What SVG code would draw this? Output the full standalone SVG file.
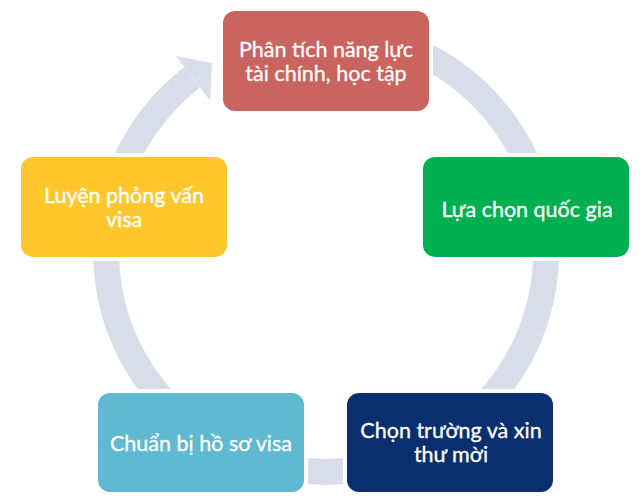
<svg xmlns="http://www.w3.org/2000/svg" width="640" height="502" viewBox="0 0 640 502">
<style>
.box{stroke:#ffffff;stroke-width:8;paint-order:stroke}
.lbl{font-family:Lato,"Liberation Sans",sans-serif;font-size:21.5px;fill:#ffffff;text-anchor:middle;stroke:#ffffff;stroke-width:0.3}
.ring{fill:none;stroke:#D8DDE9;stroke-width:26}
</style>
<rect width="640" height="502" fill="#ffffff"/>
<g id="connectors">
<path class="ring" d="M 326 32 A 220 220 0 1 1 192.1 77.5"/>
<polygon points="175.9,56.1 212,63 210.1,100.5" fill="#D8DDE9"/>
</g>
<g id="node-analysis">
<rect class="box" x="223" y="11" width="206" height="100" rx="12" fill="#C9645F"/>
<text class="lbl" x="326" y="57">Phân tích năng lực</text>
<text class="lbl" x="326" y="81">tài chính, học tập</text>
</g>
<g id="node-country">
<rect class="box" x="423" y="157" width="206" height="100" rx="12" fill="#00B050"/>
<text class="lbl" x="527" y="217">Lựa chọn quốc gia</text>
</g>
<g id="node-school">
<rect class="box" x="347" y="393" width="206" height="99" rx="12" fill="#0A2F6E"/>
<text class="lbl" x="451" y="438">Chọn trường và xin</text>
<text class="lbl" x="451" y="462">thư mời</text>
</g>
<g id="node-visa-docs">
<rect class="box" x="98" y="393" width="206" height="99" rx="12" fill="#5FB9D0"/>
<text class="lbl" x="201" y="451">Chuẩn bị hồ sơ visa</text>
</g>
<g id="node-interview">
<rect class="box" x="21" y="157" width="206" height="100" rx="12" fill="#FFC72C"/>
<text class="lbl" x="124" y="203">Luyện phỏng vấn</text>
<text class="lbl" x="124" y="227">visa</text>
</g>
</svg>
